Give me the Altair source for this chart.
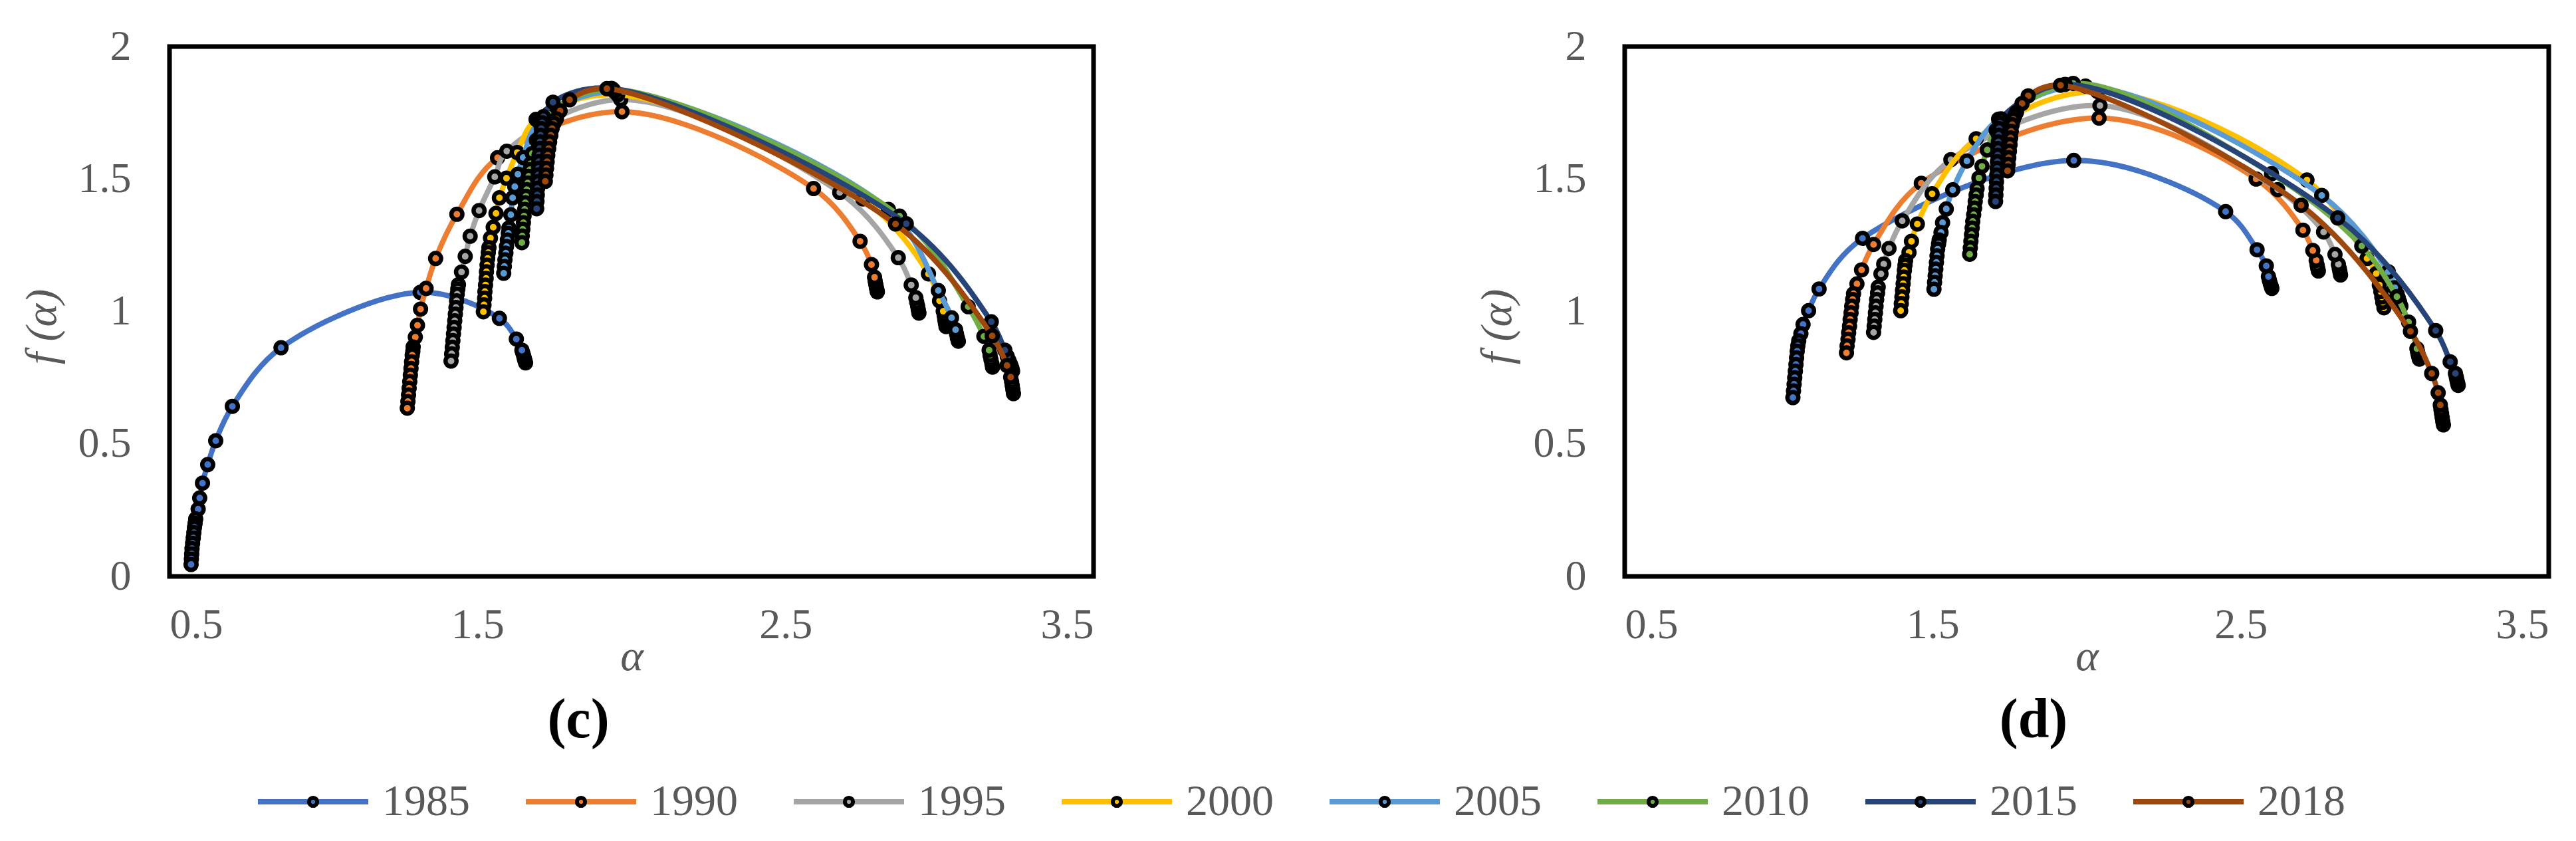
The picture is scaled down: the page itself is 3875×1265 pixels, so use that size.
import altair as alt
import pandas as pd

years = ["1985", "1990", "1995", "2000", "2005", "2010", "2015", "2018"]
colors = ["#4472C4", "#ED7D31", "#A5A5A5", "#FFC000", "#5B9BD5", "#70AD47", "#264478", "#9E480E"]
x_ticks = [0.5, 1.5, 2.5, 3.5]
y_ticks = [0, 0.5, 1, 1.5, 2]

# ---------------- panel (c) ----------------
c1985_a = [0.570, 0.571, 0.572, 0.573, 0.575, 0.577, 0.579, 0.581, 0.583, 0.585, 0.593, 0.598, 0.607, 0.624, 0.650, 0.704, 0.862, 1.314, 1.571, 1.626, 1.644, 1.647, 1.650, 1.652, 1.654, 1.656]
c1985_f = [0.045, 0.065, 0.085, 0.105, 0.125, 0.145, 0.165, 0.185, 0.200, 0.217, 0.254, 0.296, 0.352, 0.422, 0.512, 0.642, 0.863, 1.072, 0.974, 0.896, 0.854, 0.843, 0.832, 0.822, 0.814, 0.806]
c1990_a = [1.272, 1.274, 1.276, 1.278, 1.280, 1.282, 1.284, 1.286, 1.288, 1.290, 1.291, 1.298, 1.305, 1.315, 1.333, 1.364, 1.433, 1.565, 1.969, 2.591, 2.742, 2.779, 2.789, 2.791, 2.793, 2.795, 2.797, 2.798]
c1990_f = [0.635, 0.660, 0.685, 0.710, 0.735, 0.760, 0.785, 0.810, 0.835, 0.850, 0.866, 0.903, 0.948, 1.009, 1.087, 1.200, 1.367, 1.580, 1.754, 1.464, 1.265, 1.177, 1.129, 1.115, 1.102, 1.090, 1.080, 1.074]
c1995_a = [1.414, 1.416, 1.418, 1.420, 1.422, 1.424, 1.426, 1.428, 1.430, 1.432, 1.434, 1.436, 1.438, 1.448, 1.460, 1.476, 1.505, 1.556, 1.595, 1.965, 2.676, 2.866, 2.908, 2.923, 2.926, 2.929, 2.931, 2.933]
c1995_f = [0.813, 0.840, 0.865, 0.890, 0.915, 0.940, 0.965, 0.990, 1.015, 1.040, 1.065, 1.085, 1.101, 1.149, 1.208, 1.284, 1.381, 1.508, 1.605, 1.800, 1.449, 1.203, 1.100, 1.052, 1.035, 1.020, 1.006, 0.994]
c2000_a = [1.519, 1.521, 1.523, 1.524, 1.526, 1.528, 1.529, 1.531, 1.533, 1.535, 1.537, 1.542, 1.551, 1.560, 1.571, 1.594, 1.629, 1.690, 1.955, 2.751, 2.964, 3.000, 3.012, 3.015, 3.017, 3.019, 3.021]
c2000_f = [0.999, 1.025, 1.050, 1.075, 1.100, 1.125, 1.150, 1.175, 1.200, 1.222, 1.241, 1.277, 1.318, 1.370, 1.429, 1.503, 1.600, 1.725, 1.818, 1.425, 1.142, 1.040, 1.001, 0.985, 0.970, 0.956, 0.943]
c2005_a = [1.585, 1.587, 1.589, 1.592, 1.594, 1.597, 1.600, 1.602, 1.608, 1.614, 1.621, 1.631, 1.648, 1.700, 1.945, 2.834, 2.996, 3.039, 3.052, 3.055, 3.058, 3.061]
c2005_f = [1.144, 1.170, 1.195, 1.220, 1.245, 1.270, 1.295, 1.315, 1.365, 1.429, 1.471, 1.518, 1.581, 1.715, 1.830, 1.385, 1.079, 0.976, 0.931, 0.915, 0.900, 0.888]
c2010_a = [1.644, 1.645, 1.647, 1.649, 1.651, 1.653, 1.655, 1.657, 1.660, 1.663, 1.666, 1.670, 1.673, 1.678, 1.691, 1.730, 1.940, 2.870, 3.093, 3.144, 3.161, 3.164, 3.167, 3.170, 3.172]
c2010_f = [1.260, 1.285, 1.310, 1.335, 1.360, 1.385, 1.410, 1.435, 1.460, 1.485, 1.510, 1.535, 1.558, 1.596, 1.646, 1.745, 1.838, 1.360, 1.018, 0.906, 0.854, 0.835, 0.818, 0.803, 0.790]
c2015_a = [1.692, 1.693, 1.694, 1.695, 1.696, 1.697, 1.698, 1.699, 1.700, 1.702, 1.703, 1.705, 1.707, 1.710, 1.714, 1.745, 1.935, 2.892, 3.168, 3.212, 3.220, 3.225, 3.229, 3.232, 3.235, 3.237]
c2015_f = [1.388, 1.415, 1.440, 1.465, 1.490, 1.515, 1.540, 1.565, 1.590, 1.615, 1.640, 1.665, 1.690, 1.712, 1.735, 1.790, 1.842, 1.331, 0.961, 0.854, 0.830, 0.815, 0.804, 0.795, 0.785, 0.775]
c2018_a = [1.720, 1.722, 1.724, 1.726, 1.728, 1.731, 1.734, 1.738, 1.742, 1.748, 1.756, 1.768, 1.799, 1.920, 2.857, 3.171, 3.219, 3.231, 3.234, 3.236, 3.238, 3.240]
c2018_f = [1.491, 1.515, 1.540, 1.565, 1.590, 1.615, 1.640, 1.665, 1.690, 1.710, 1.727, 1.757, 1.799, 1.841, 1.330, 0.908, 0.796, 0.752, 0.735, 0.720, 0.705, 0.690]

# ---------------- panel (d) ----------------
d1985_a = [1.046, 1.048, 1.050, 1.052, 1.054, 1.056, 1.058, 1.060, 1.062, 1.065, 1.072, 1.079, 1.097, 1.131, 1.272, 1.958, 2.451, 2.553, 2.583, 2.590, 2.593, 2.596, 2.599, 2.601]
d1985_f = [0.675, 0.700, 0.725, 0.750, 0.775, 0.800, 0.825, 0.850, 0.870, 0.889, 0.916, 0.951, 1.003, 1.085, 1.276, 1.570, 1.377, 1.233, 1.172, 1.132, 1.118, 1.105, 1.095, 1.087]
d1990_a = [1.220, 1.222, 1.225, 1.227, 1.230, 1.232, 1.235, 1.237, 1.240, 1.243, 1.254, 1.269, 1.308, 1.463, 2.040, 2.550, 2.702, 2.734, 2.745, 2.748, 2.750, 2.752]
d1990_f = [0.844, 0.870, 0.895, 0.920, 0.945, 0.970, 0.995, 1.020, 1.045, 1.067, 1.104, 1.157, 1.253, 1.484, 1.730, 1.500, 1.307, 1.230, 1.193, 1.175, 1.163, 1.153]
d1995_a = [1.308, 1.310, 1.312, 1.314, 1.316, 1.318, 1.321, 1.323, 1.332, 1.341, 1.358, 1.401, 1.559, 2.043, 2.620, 2.769, 2.806, 2.817, 2.820, 2.822, 2.824]
d1995_f = [0.921, 0.945, 0.970, 0.995, 1.020, 1.045, 1.070, 1.092, 1.142, 1.179, 1.238, 1.342, 1.573, 1.777, 1.460, 1.300, 1.215, 1.178, 1.162, 1.150, 1.138]
d2000_a = [1.396, 1.398, 1.400, 1.402, 1.404, 1.406, 1.408, 1.410, 1.412, 1.423, 1.431, 1.450, 1.498, 1.641, 2.035, 2.715, 2.910, 2.940, 2.950, 2.955, 2.958, 2.961, 2.965]
d2000_f = [1.003, 1.030, 1.055, 1.080, 1.105, 1.130, 1.155, 1.175, 1.192, 1.223, 1.265, 1.330, 1.444, 1.652, 1.830, 1.496, 1.200, 1.143, 1.100, 1.075, 1.055, 1.035, 1.014]
d2005_a = [1.504, 1.506, 1.508, 1.510, 1.512, 1.514, 1.516, 1.519, 1.521, 1.527, 1.532, 1.544, 1.565, 1.611, 1.714, 1.996, 2.763, 2.979, 3.000, 3.008, 3.012, 3.016, 3.020]
d2005_f = [1.084, 1.110, 1.135, 1.160, 1.185, 1.210, 1.235, 1.255, 1.270, 1.298, 1.335, 1.387, 1.459, 1.568, 1.726, 1.851, 1.438, 1.150, 1.090, 1.065, 1.050, 1.035, 1.020]
d2010_a = [1.620, 1.622, 1.624, 1.626, 1.628, 1.630, 1.633, 1.636, 1.638, 1.641, 1.644, 1.650, 1.660, 1.677, 1.706, 1.956, 2.600, 2.893, 3.007, 3.045, 3.072, 3.074, 3.076, 3.078, 3.080]
d2010_f = [1.216, 1.240, 1.265, 1.290, 1.315, 1.340, 1.365, 1.390, 1.415, 1.440, 1.464, 1.504, 1.548, 1.610, 1.684, 1.861, 1.520, 1.247, 1.056, 0.960, 0.860, 0.848, 0.838, 0.829, 0.820]
d2015_a = [1.704, 1.705, 1.706, 1.707, 1.708, 1.709, 1.710, 1.711, 1.712, 1.713, 1.714, 1.716, 1.719, 1.722, 1.930, 2.815, 3.133, 3.180, 3.197, 3.200, 3.202, 3.204, 3.206]
d2015_f = [1.415, 1.440, 1.465, 1.490, 1.515, 1.540, 1.565, 1.590, 1.615, 1.640, 1.665, 1.690, 1.710, 1.727, 1.857, 1.353, 0.928, 0.810, 0.766, 0.752, 0.740, 0.730, 0.721]
d2018_a = [1.743, 1.745, 1.747, 1.749, 1.751, 1.753, 1.755, 1.758, 1.762, 1.767, 1.772, 1.790, 1.810, 1.915, 2.696, 3.051, 3.120, 3.141, 3.148, 3.150, 3.152, 3.154, 3.156, 3.158]
d2018_f = [1.531, 1.555, 1.580, 1.605, 1.630, 1.655, 1.680, 1.705, 1.725, 1.740, 1.752, 1.785, 1.814, 1.854, 1.401, 0.925, 0.766, 0.693, 0.647, 0.630, 0.615, 0.600, 0.585, 0.572]

panel_c = [(c1985_a, c1985_f), (c1990_a, c1990_f), (c1995_a, c1995_f), (c2000_a, c2000_f),
           (c2005_a, c2005_f), (c2010_a, c2010_f), (c2015_a, c2015_f), (c2018_a, c2018_f)]
panel_d = [(d1985_a, d1985_f), (d1990_a, d1990_f), (d1995_a, d1995_f), (d2000_a, d2000_f),
           (d2005_a, d2005_f), (d2010_a, d2010_f), (d2015_a, d2015_f), (d2018_a, d2018_f)]

FONT = "Liberation Serif"
GREY = "#595959"

X = alt.X("alpha:Q",
          scale=alt.Scale(domain=[0.5, 3.5], nice=False, zero=False),
          axis=alt.Axis(values=x_ticks, format=".1f", title="α", labelPadding=41,
                        titleY=140, titleBaseline="alphabetic"))
Y = alt.Y("f:Q",
          scale=alt.Scale(domain=[0, 2], nice=False, zero=False),
          axis=alt.Axis(values=y_ticks, format="~g", title="f (α)", labelPadding=58,
                        titleX=-192, titleY=421, titleAngle=270, titleAlign="center",
                        titleBaseline="middle"))


def make_panel(series, caption):
    layers = []
    for (a_list, f_list), col in zip(series, colors):
        df = pd.DataFrame({"alpha": a_list, "f": f_list, "k": list(range(len(a_list)))})
        df = df.iloc[::-1].reset_index(drop=True)
        line = alt.Chart(df).mark_line(interpolate="catmull-rom", strokeWidth=8, color=col,
                                       strokeCap="round").encode(x=X, y=Y, order="k:Q")
        pts = alt.Chart(df).mark_point(shape="circle", filled=True, fill=col, stroke="black",
                                       strokeWidth=6.5, size=272, opacity=1).encode(x=X, y=Y)
        layers += [line, pts]
    return alt.layer(*layers).properties(
        width=1390, height=797,
        title=alt.TitleParams(caption, orient="bottom", font=FONT, fontSize=84,
                              fontWeight="bold", color="black", dx=-80, offset=23))


top = alt.hconcat(make_panel(panel_c, "(c)"), make_panel(panel_d, "(d)"), spacing=566)

leg_df = pd.DataFrame({"year": years})
leg_x = alt.X("year:N", scale=alt.Scale(type="point", domain=years, padding=0,
                                        range=[133, 133 + 7 * 403]), axis=None)
leg_color = alt.Color("year:N", scale=alt.Scale(domain=years, range=colors), legend=None)
leg_line = alt.Chart(leg_df).mark_rule(strokeWidth=8, x2Offset=166).encode(
    x=leg_x, x2=alt.X2("year:N"), y=alt.value(30), color=leg_color)
leg_pt = alt.Chart(leg_df).mark_point(shape="circle", filled=True, stroke="black", strokeWidth=6,
                                      size=150, opacity=1, xOffset=83).encode(
    x=leg_x, y=alt.value(30), fill=alt.Fill("year:N", scale=alt.Scale(domain=years, range=colors), legend=None))
leg_txt = alt.Chart(leg_df).mark_text(align="left", baseline="middle", dx=187, font=FONT,
                                      fontSize=66, color=GREY).encode(
    x=leg_x, y=alt.value(30), text="year:N")
legend = alt.layer(leg_line, leg_pt, leg_txt).properties(
    width=3400, height=60, view=alt.ViewBackground(strokeWidth=0))

chart = alt.vconcat(top, legend, spacing=43).properties(
    padding={"left": 18, "top": 26, "right": 5, "bottom": 5}
).configure_view(stroke="black", strokeWidth=7).configure_axis(
    grid=False, domain=False, ticks=False,
    labelFont=FONT, labelFontSize=64, labelColor=GREY,
    titleFont=FONT, titleFontSize=66, titleColor=GREY,
    titleFontWeight="normal", titleFontStyle="italic"
)

chart.save("out.html", embed_options={"renderer": "svg", "actions": False})
